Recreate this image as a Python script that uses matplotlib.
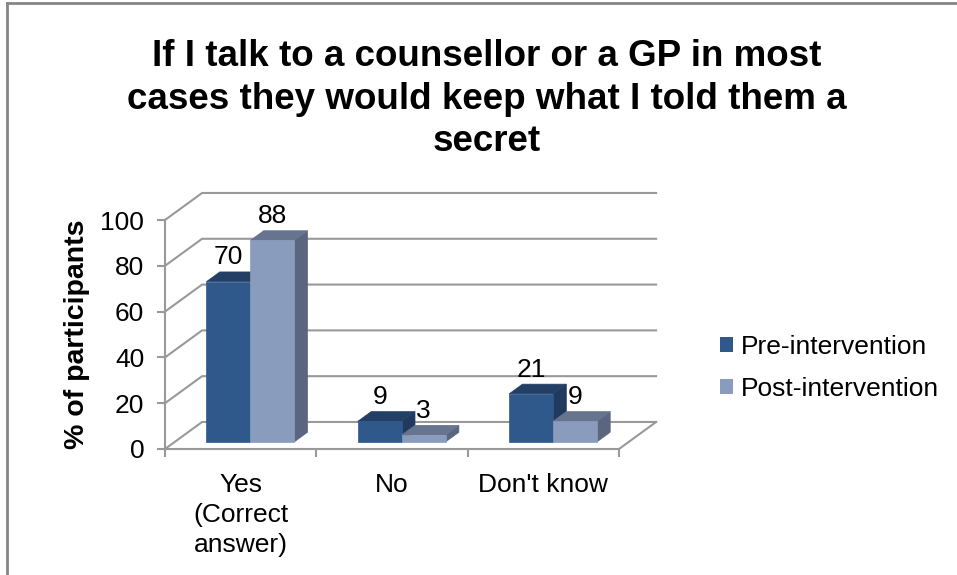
import matplotlib.pyplot as plt
from matplotlib.patches import Polygon, Patch
from matplotlib.lines import Line2D
from matplotlib.ticker import FixedLocator

categories = ['Yes\n(Correct\nanswer)', 'No', "Don't know"]
pre_values = [70, 9, 21]
post_values = [88, 3, 9]
series_names = ['Pre-intervention', 'Post-intervention']
y_ticks = [0, 20, 40, 60, 80, 100]

plt.rcParams['font.family'] = ['Liberation Sans', 'DejaVu Sans']

# face colours: front, top, side
pre_colors = ('#30598b', '#243f66', '#1f3a5e')
post_colors = ('#8a9cbd', '#67748f', '#5a6680')
grid_color = '#999999'
fs = 19

W, H = 957, 575
fig = plt.figure(figsize=(W / 100, H / 100), dpi=100)

# axes covers the front plane of the 3d box
ax = fig.add_axes([165 / W, 1 - 449 / H, (619 - 165) / W, (449 - 220) / H])
ax.set_xlim(0, len(categories))
ax.set_ylim(0, 100)
ax.patch.set_visible(False)

# oblique depth of the box in data units
DX, DY = 0.245, 11.8
f0, f1 = 0.26, 0.62  # bar front / back as fraction of depth
bar_w = 0.29
n = len(categories)

# side wall + back wall gridlines
for v in y_ticks:
    ax.plot([0, DX, n + DX], [v, v + DY, v + DY], color=grid_color, lw=1.5,
            clip_on=False, zorder=1)
# floor edges
ax.plot([n, n + DX], [0, DY], color=grid_color, lw=1.5, clip_on=False, zorder=1)


def draw_box(x0, h, colors):
    x1 = x0 + bar_w
    fx, fy = f0 * DX, f0 * DY
    bx, by = f1 * DX, f1 * DY
    front = [(x0 + fx, fy), (x1 + fx, fy), (x1 + fx, h + fy), (x0 + fx, h + fy)]
    top = [(x0 + fx, h + fy), (x1 + fx, h + fy), (x1 + bx, h + by), (x0 + bx, h + by)]
    side = [(x1 + fx, fy), (x1 + bx, by), (x1 + bx, h + by), (x1 + fx, h + fy)]
    for pts, c in zip((side, top, front), (colors[2], colors[1], colors[0])):
        ax.add_patch(Polygon(pts, closed=True, facecolor=c, edgecolor=c,
                             lw=0.5, clip_on=False, zorder=3))
    ax.annotate(str(h), xy=(x0 + fx + bar_w / 2, h + by), xytext=(0, 5.5),
                textcoords='offset points', ha='center', va='baseline',
                fontsize=fs, zorder=5, annotation_clip=False)


for i in range(n):
    left = i + 0.5 - bar_w
    draw_box(left, pre_values[i], pre_colors)
    draw_box(left + bar_w, post_values[i], post_colors)

for s in ('top', 'right'):
    ax.spines[s].set_visible(False)
for s in ('left', 'bottom'):
    ax.spines[s].set_color(grid_color)
    ax.spines[s].set_linewidth(1.5)

ax.set_yticks(y_ticks)
ax.tick_params(axis='y', length=6, width=1.5, color=grid_color, labelsize=fs, pad=9)
ax.set_xticks([i + 0.5 for i in range(n)])
ax.set_xticklabels(categories)
ax.xaxis.set_minor_locator(FixedLocator(list(range(n + 1))))
ax.tick_params(axis='x', which='major', length=0, labelsize=fs, pad=17)
ax.tick_params(axis='x', which='minor', length=6, width=1.5, color=grid_color)
for lab in ax.get_xticklabels():
    lab.set_verticalalignment('top')
    lab.set_linespacing(1.32)

fig.text(77 / W, 1 - 334 / H, '% of participants', rotation=90, fontsize=20.5,
         fontweight='bold', ha='center', va='center')

fig.text(487 / W, 1 - 39 / H,
         'If I talk to a counsellor or a GP in most\ncases they would keep what I told them a\nsecret',
         fontsize=26.5, fontweight='bold', ha='center', va='top', linespacing=1.28)

handles = [Patch(facecolor=pre_colors[0]), Patch(facecolor=post_colors[0])]
fig.legend(handles, series_names, loc='center left',
           bbox_to_anchor=(720 / W, 1 - 368 / H), frameon=False, fontsize=fs,
           handlelength=0.5, handleheight=0.5, handletextpad=0.3,
           labelspacing=0.68, borderaxespad=0, borderpad=0)

# outer chart border
fig.add_artist(Line2D([7 / W, 7 / W], [0, 1 - 3 / H], transform=fig.transFigure,
                      color='#868686', lw=2))
fig.add_artist(Line2D([7 / W, 1], [1 - 3 / H, 1 - 3 / H], transform=fig.transFigure,
                      color='#868686', lw=2))

fig.savefig('out.png', dpi=100)
